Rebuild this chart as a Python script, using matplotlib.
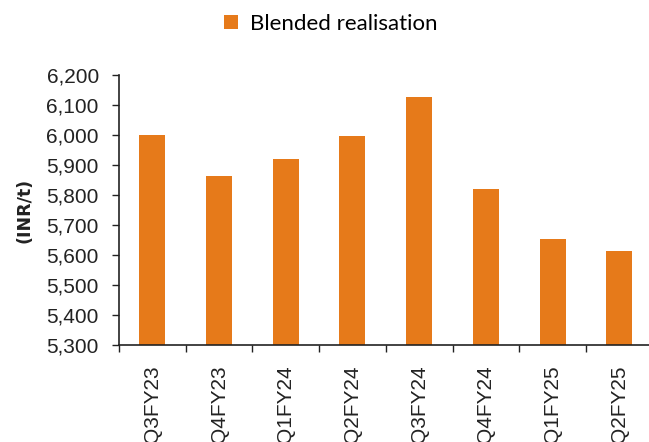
import matplotlib
matplotlib.use("Agg")
import matplotlib.pyplot as plt
from matplotlib.ticker import FuncFormatter, FixedLocator
import numpy as np

categories = ["Q3FY23", "Q4FY23", "Q1FY24", "Q2FY24", "Q3FY24", "Q4FY24", "Q1FY25", "Q2FY25"]
values = [6000, 5863, 5919, 5998, 6126, 5819, 5654, 5614]
series_name = "Blended realisation"
y_label = "(INR/t)"
y_ticks = [5300, 5400, 5500, 5600, 5700, 5800, 5900, 6000, 6100, 6200]

color = "#E67A1A"
W, H = 649, 442
fig = plt.figure(figsize=(W / 100, H / 100), dpi=100)
ax = fig.add_axes([119 / W, 1 - 345 / H, (652.6 - 119) / W, (345 - 75) / H])

x = np.arange(len(categories))
bars = ax.bar(x, values, width=0.39, color=color, label=series_name, zorder=2)

ax.set_xlim(-0.5, len(categories) - 0.5)
ax.set_ylim(5300, 6200)
ax.yaxis.set_major_locator(FixedLocator(y_ticks))
ax.yaxis.set_major_formatter(FuncFormatter(lambda v, p: f"{int(v):,}"))

tick_font = "Liberation Sans"
# x ticks at category boundaries, labels at centers
ax.set_xticks(np.arange(-0.5, len(categories) + 0.5, 1.0))
ax.set_xticklabels([])
ax.set_xticks(x, minor=True)
ax.set_xticklabels(categories, minor=True, rotation=90, fontsize=15,
                   family=tick_font, color="#222222", va="top")
ax.tick_params(axis="x", which="minor", length=0, pad=14.5)
ax.tick_params(axis="x", which="major", length=5, width=1, color="#222222", direction="out")
ax.tick_params(axis="y", length=5, width=1, color="#222222", direction="out", pad=9.5,
               labelsize=15, labelcolor="#222222")
for lab in ax.get_yticklabels():
    lab.set_family(tick_font)

for s in ["top", "right"]:
    ax.spines[s].set_visible(False)
for s in ["left", "bottom"]:
    ax.spines[s].set_color("#222222")
    ax.spines[s].set_linewidth(1.2)

ax.set_ylabel(y_label, fontsize=12.5, fontweight="bold", family="DejaVu Sans", color="#222222")
ax.yaxis.set_label_coords(-0.161, 0.5)

fig.legend(handles=[bars], labels=[series_name], loc="center", bbox_to_anchor=(331 / W, 1 - 24 / H),
           frameon=False, prop={"family": "Lato", "size": 16},
           handlelength=0.6, handleheight=0.6, handletextpad=0.55)

fig.savefig("out.png", dpi=100)
